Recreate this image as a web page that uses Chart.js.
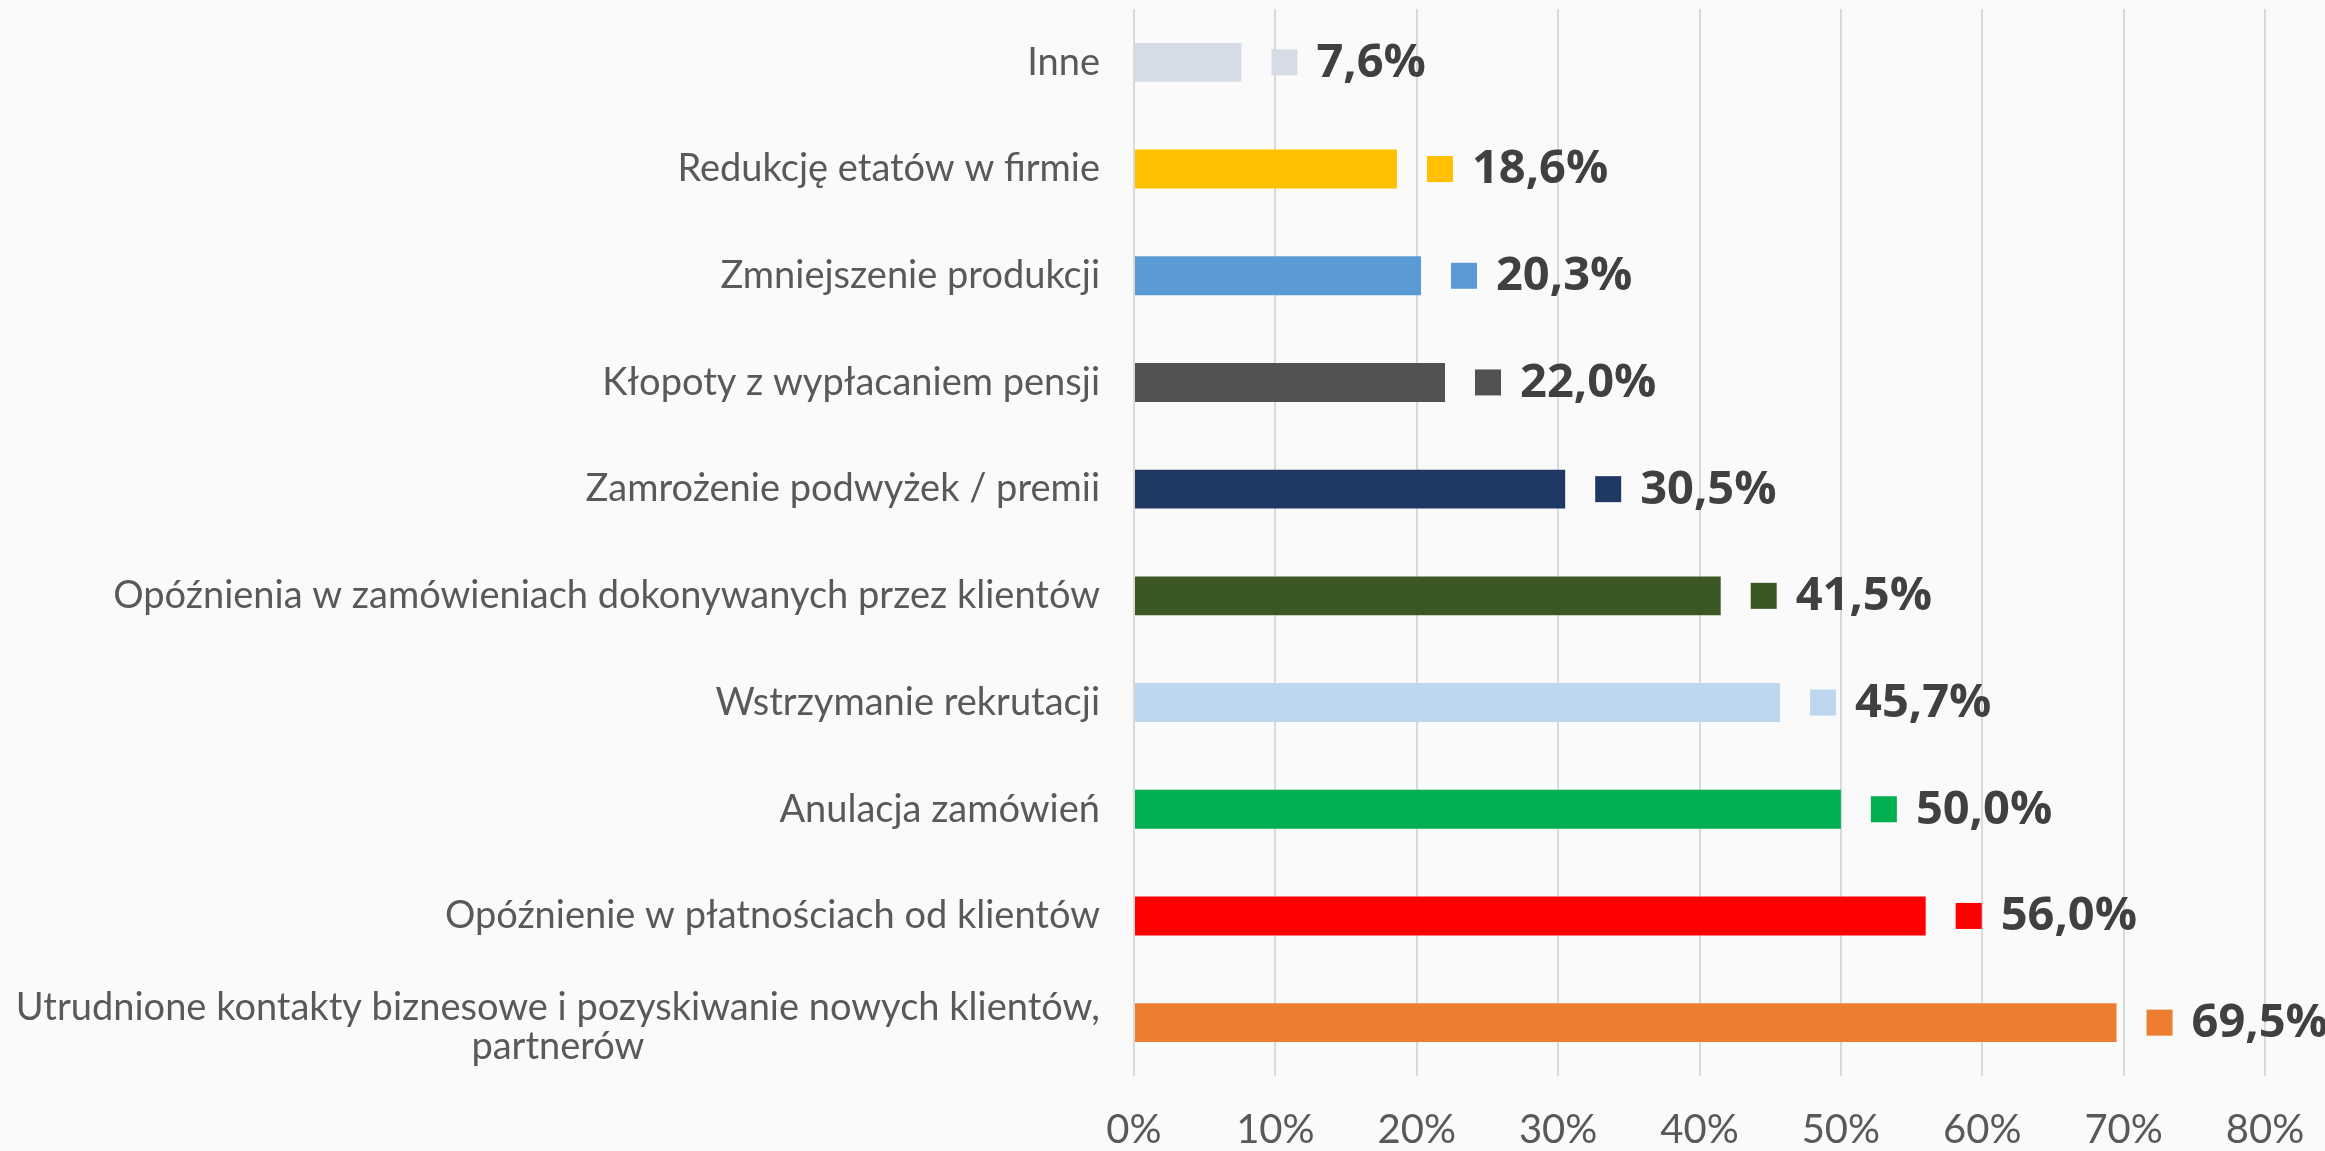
<!DOCTYPE html>
<html>
<head>
<meta charset="utf-8">
<script src="https://cdn.jsdelivr.net/npm/chart.js@4/dist/chart.umd.min.js"></script>
<style>
  html, body { margin: 0; padding: 0; background: #fafafa; }
  #wrap { width: 2325px; height: 1151px; }
</style>
</head>
<body>
<div id="wrap"><canvas id="myChart" width="2325" height="1151"></canvas></div>
<script>
// categories, top to bottom
var categories = [
  'Inne',
  'Redukcję etatów w firmie',
  'Zmniejszenie produkcji',
  'Kłopoty z wypłacaniem pensji',
  'Zamrożenie podwyżek / premii',
  'Opóźnienia w zamówieniach dokonywanych przez klientów',
  'Wstrzymanie rekrutacji',
  'Anulacja zamówień',
  'Opóźnienie w płatnościach od klientów',
  ['Utrudnione kontakty biznesowe i pozyskiwanie nowych klientów,', 'partnerów']
];
var values = [7.6, 18.6, 20.3, 22.0, 30.5, 41.5, 45.7, 50.0, 56.0, 69.5];
var colors = ['#d6dce5', '#ffc000', '#5b9bd5', '#525252', '#203864',
              '#3a5724', '#bdd7ee', '#00b050', '#ff0000', '#ed7d31'];
var xTicks = [0, 10, 20, 30, 40, 50, 60, 70, 80];

var labelFont = '38px Lato, "Open Sans", sans-serif';
var valueFont = 'bold 47px "Open Sans", Lato, sans-serif';

// draws the category names (second line centred under the first) and the value labels
var labelsPlugin = {
  id: 'labelsPlugin',
  afterDatasetsDraw: function (chart) {
    var ctx = chart.ctx;
    var yScale = chart.scales.y;
    var meta = chart.getDatasetMeta(0);
    ctx.save();

    // category labels
    ctx.font = labelFont;
    ctx.fillStyle = '#595959';
    ctx.textBaseline = 'middle';
    ctx.textAlign = 'center';
    var right = chart.chartArea.left - 34;
    categories.forEach(function (cat, i) {
      var lines = Array.isArray(cat) ? cat : [cat];
      var maxW = 0;
      lines.forEach(function (l) { maxW = Math.max(maxW, ctx.measureText(l).width); });
      var yc = yScale.getPixelForTick(i) + (lines.length > 1 ? 5 : 0);
      var lh = 39;
      lines.forEach(function (l, k) {
        var y = yc + (k - (lines.length - 1) / 2) * lh;
        ctx.fillText(l, right - maxW / 2, y);
      });
    });

    // value labels with a small colour key
    ctx.font = valueFont;
    ctx.textAlign = 'left';
    meta.data.forEach(function (bar, i) {
      var x = bar.x + 30;
      ctx.fillStyle = colors[i];
      ctx.fillRect(x, bar.y - 13, 26, 26);
      ctx.fillStyle = '#404040';
      ctx.fillText(values[i].toFixed(1).replace('.', ',') + '%', x + 45, bar.y + 1);
    });
    ctx.restore();
  }
};

var ctx = document.getElementById('myChart').getContext('2d');
var myChart = new Chart(ctx, {
  type: 'bar',
  data: {
    labels: categories,
    datasets: [{
      data: values,
      backgroundColor: colors,
      categoryPercentage: 1,
      barPercentage: 0.365
    }]
  },
  options: {
    indexAxis: 'y',
    responsive: false,
    animation: false,
    layout: {
      padding: { top: 9, right: 0, bottom: 0, left: 0 }
    },
    plugins: {
      legend: { display: false },
      tooltip: { enabled: false }
    },
    scales: {
      x: {
        min: 0,
        max: 80,
        afterBuildTicks: function (scale) {
          scale.ticks = xTicks.map(function (v) { return { value: v }; });
        },
        afterFit: function (scale) {
          scale.height = 75;
          scale.paddingRight = 60;
        },
        grid: { color: '#d9d9d9', lineWidth: 2, drawTicks: false },
        border: { display: false },
        ticks: {
          callback: function (v) { return v + '%'; },
          color: '#595959',
          font: { family: 'Lato, "Open Sans", sans-serif', size: 40 },
          padding: 30,
          maxRotation: 0
        }
      },
      y: {
        afterFit: function (scale) { scale.width = 1134; },
        grid: { display: false },
        border: { display: false },
        ticks: { display: false }
      }
    }
  },
  plugins: [labelsPlugin]
});
</script>
</body>
</html>
